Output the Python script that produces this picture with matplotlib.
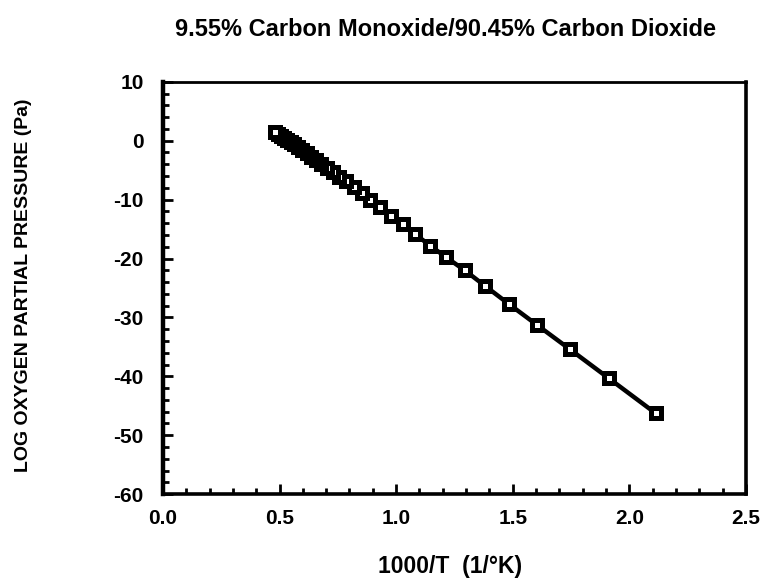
import matplotlib
matplotlib.use("Agg")
import matplotlib.pyplot as plt
from matplotlib.ticker import MultipleLocator

plt.rcParams['font.family'] = ['Liberation Sans', 'DejaVu Sans']
plt.rcParams['axes.unicode_minus'] = False

# 1000/T (1/K) and log oxygen partial pressure (Pa)
inv_temp = [2.114, 1.911, 1.745, 1.605, 1.486, 1.383, 1.294, 1.215, 1.145,
            1.083, 1.028, 0.977, 0.932, 0.890, 0.852, 0.818, 0.786, 0.756,
            0.728, 0.703, 0.679, 0.656, 0.636, 0.616, 0.598, 0.580, 0.564,
            0.549, 0.534, 0.521, 0.507, 0.494, 0.482]
log_po2 = [-46.3, -40.3, -35.4, -31.3, -27.8, -24.7, -22.0, -19.8, -17.8,
           -15.9, -14.2, -12.7, -11.3, -10.1, -8.9, -7.9, -6.9, -6.1,
           -5.3, -4.6, -3.9, -3.3, -2.7, -2.1, -1.6, -1.1, -0.6,
           -0.2, 0.2, 0.5, 0.8, 1.1, 1.4]

title = "9.55% Carbon Monoxide/90.45% Carbon Dioxide"

fig = plt.figure(figsize=(7.65, 5.8), dpi=100)
ax = fig.add_axes([0.213, 0.148, 0.762, 0.711])

ax.plot(inv_temp, log_po2, color='black', lw=3.2, marker='s', markersize=6.8,
        markerfacecolor='white', markeredgecolor='black', markeredgewidth=3.6)

ax.set_xlim(0.0, 2.5)
ax.set_ylim(-60, 10)
ax.xaxis.set_major_locator(MultipleLocator(0.5))
ax.xaxis.set_minor_locator(MultipleLocator(0.1))
ax.yaxis.set_major_locator(MultipleLocator(10))
ax.yaxis.set_minor_locator(MultipleLocator(2))
ax.xaxis.set_major_formatter(plt.FuncFormatter(lambda v, p: f"{v:.1f}"))

ax.tick_params(which='both', direction='in', top=False, right=False, width=2)
ax.tick_params(which='major', length=7)
ax.tick_params(which='minor', length=4)
ax.tick_params(axis='x', pad=11, labelsize=15)
ax.tick_params(axis='y', pad=14, labelsize=15)
for lab in ax.get_xticklabels() + ax.get_yticklabels():
    lab.set_fontweight('bold')

ax.spines['left'].set_linewidth(3.2)
ax.spines['bottom'].set_linewidth(2.6)
ax.spines['top'].set_linewidth(2)
ax.spines['right'].set_linewidth(2.6)

fig.text(0.582, 0.949, title, ha='center', va='center', fontsize=17,
         fontweight='bold')
ax.set_xlabel("1000/T  (1/\u00b0K)", fontsize=16.5, fontweight='bold', va='center')
ax.xaxis.set_label_coords(0.492, -0.175)
ax.set_ylabel("LOG OXYGEN PARTIAL PRESSURE (Pa)", fontsize=14,
              fontweight='bold', va='center')
ax.yaxis.set_label_coords(-0.24, 0.507)

fig.savefig("out.png", dpi=100)
